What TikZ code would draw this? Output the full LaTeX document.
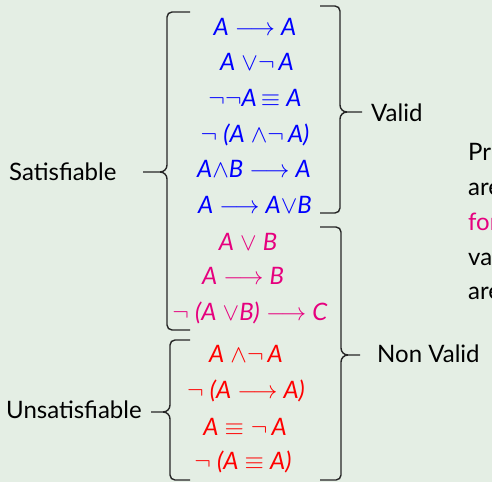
\documentclass[tikz,border=0pt]{standalone}
\usepackage{fontspec}
\setmainfont{Lato}
\usepackage{xcolor}
\definecolor{bgcol}{HTML}{E4EEE4}
\definecolor{validcol}{HTML}{0000FF}
\definecolor{nvcol}{HTML}{E6007E}
\definecolor{unsatcol}{HTML}{FF0000}
\tikzset{every node/.append style={font=\fontsize{24}{28}\selectfont, inner sep=0pt}}
\tikzset{
  form/.style={anchor=base},
  validf/.style={form, text=validcol},
  nvf/.style={form, text=nvcol},
  unsatf/.style={form, text=unsatcol},
  lab/.style={anchor=base west},
  bracket/.style={line width=1.4pt, black!85}
}
% #1 side (1 left, -1 right), #2 x of stem, #3 top, #4 cusp, #5 bottom, #6 hook length, #7 tip x
\newcommand{\curlyside}[7]{%
  \draw[bracket] ({#2+#1*#6},#3) -- ({#2+#1*5},#3) to[out={90+#1*90},in=90] (#2,#3+5)
    -- (#2,#4-7) to[out=-90,in={90-#1*90}] ({#2-#1*7},#4) -- (#7,#4)
    ({#2-#1*7},#4) to[out={90-#1*90},in=90] (#2,#4+7)
    -- (#2,#5-5) to[out=-90,in={90+#1*90}] ({#2+#1*5},#5) -- ({#2+#1*#6},#5);}
\newcommand{\itA}{\textit{A}}
\newcommand{\itB}{\textit{B}}
\newcommand{\imp}{$\longrightarrow$}

\begin{document}
\begin{tikzpicture}[x=1pt, y=-1pt]
    \fill[bgcol] (0,0) rectangle (492,482);
    \clip (0,0) rectangle (492,482);
    % valid formulas
    \node[validf] (f1) at (255,35) {\itA\ \imp\ \itA};
    \node[validf] (f2) at (257,70) {\itA\ $\vee\neg$\,\itA};
    \node[validf] (f3) at (255,106) {$\neg\neg$\itA$\,\equiv$ \itA};
    \node[validf] (f4) at (255,142) {$\neg$ \textit{(A} $\wedge\neg$\,\textit{A)}};
    \node[validf] (f5) at (254,177) {\itA$\wedge$\itB\ \imp\ \itA};
    \node[validf] (f6) at (255,213) {\itA\ \imp\ \itA$\vee$\itB};
    % satisfiable but not valid
    \node[nvf] (f7) at (248,250) {\itA\ $\vee$ \itB};
    \node[nvf] (f8) at (243,284) {\itA\ \imp\ \itB};
    \node[nvf] (f9) at (250,320) {$\neg$ \textit{(A} $\vee$\textit{B)} \imp\ \textit{C}};
    % unsatisfiable
    \node[unsatf] (f10) at (246,362) {\itA\ $\wedge\neg$\,\itA};
    \node[unsatf] (f11) at (246,398) {$\neg$ \textit{(A} \imp\ \textit{A)}};
    \node[unsatf] (f12) at (245,435) {\itA\ $\equiv\neg$\,\itA};
    \node[unsatf] (f13) at (243,469) {$\neg$ \textit{(A} $\equiv$ \textit{A)}};
    % braces
    \curlyside{1}{167}{12}{172}{330}{23}{143}
    \curlyside{1}{170}{340}{412}{480}{20}{151}
    \curlyside{-1}{340}{6}{112}{213}{20}{362}
    \curlyside{-1}{341}{227}{355}{480}{21}{360}
    % labels
    \node[lab] (sat) at (9,180) {Satisfiable};
    \node[lab] (unsat) at (6,418) {Unsatisfiable};
    \node[lab] (valid) at (371,121) {Valid};
    \node[lab] (nonvalid) at (377,362) {Non Valid};
    % text cut off at the right edge
    \node[lab] (p1) at (468,160) {Pr};
    \node[lab] (p2) at (468,195) {are};
    \node[lab, text=nvcol] (p3) at (468,230) {for};
    \node[lab] (p4) at (468,265) {va};
    \node[lab] (p5) at (468,299) {are};
\end{tikzpicture}
\end{document}
